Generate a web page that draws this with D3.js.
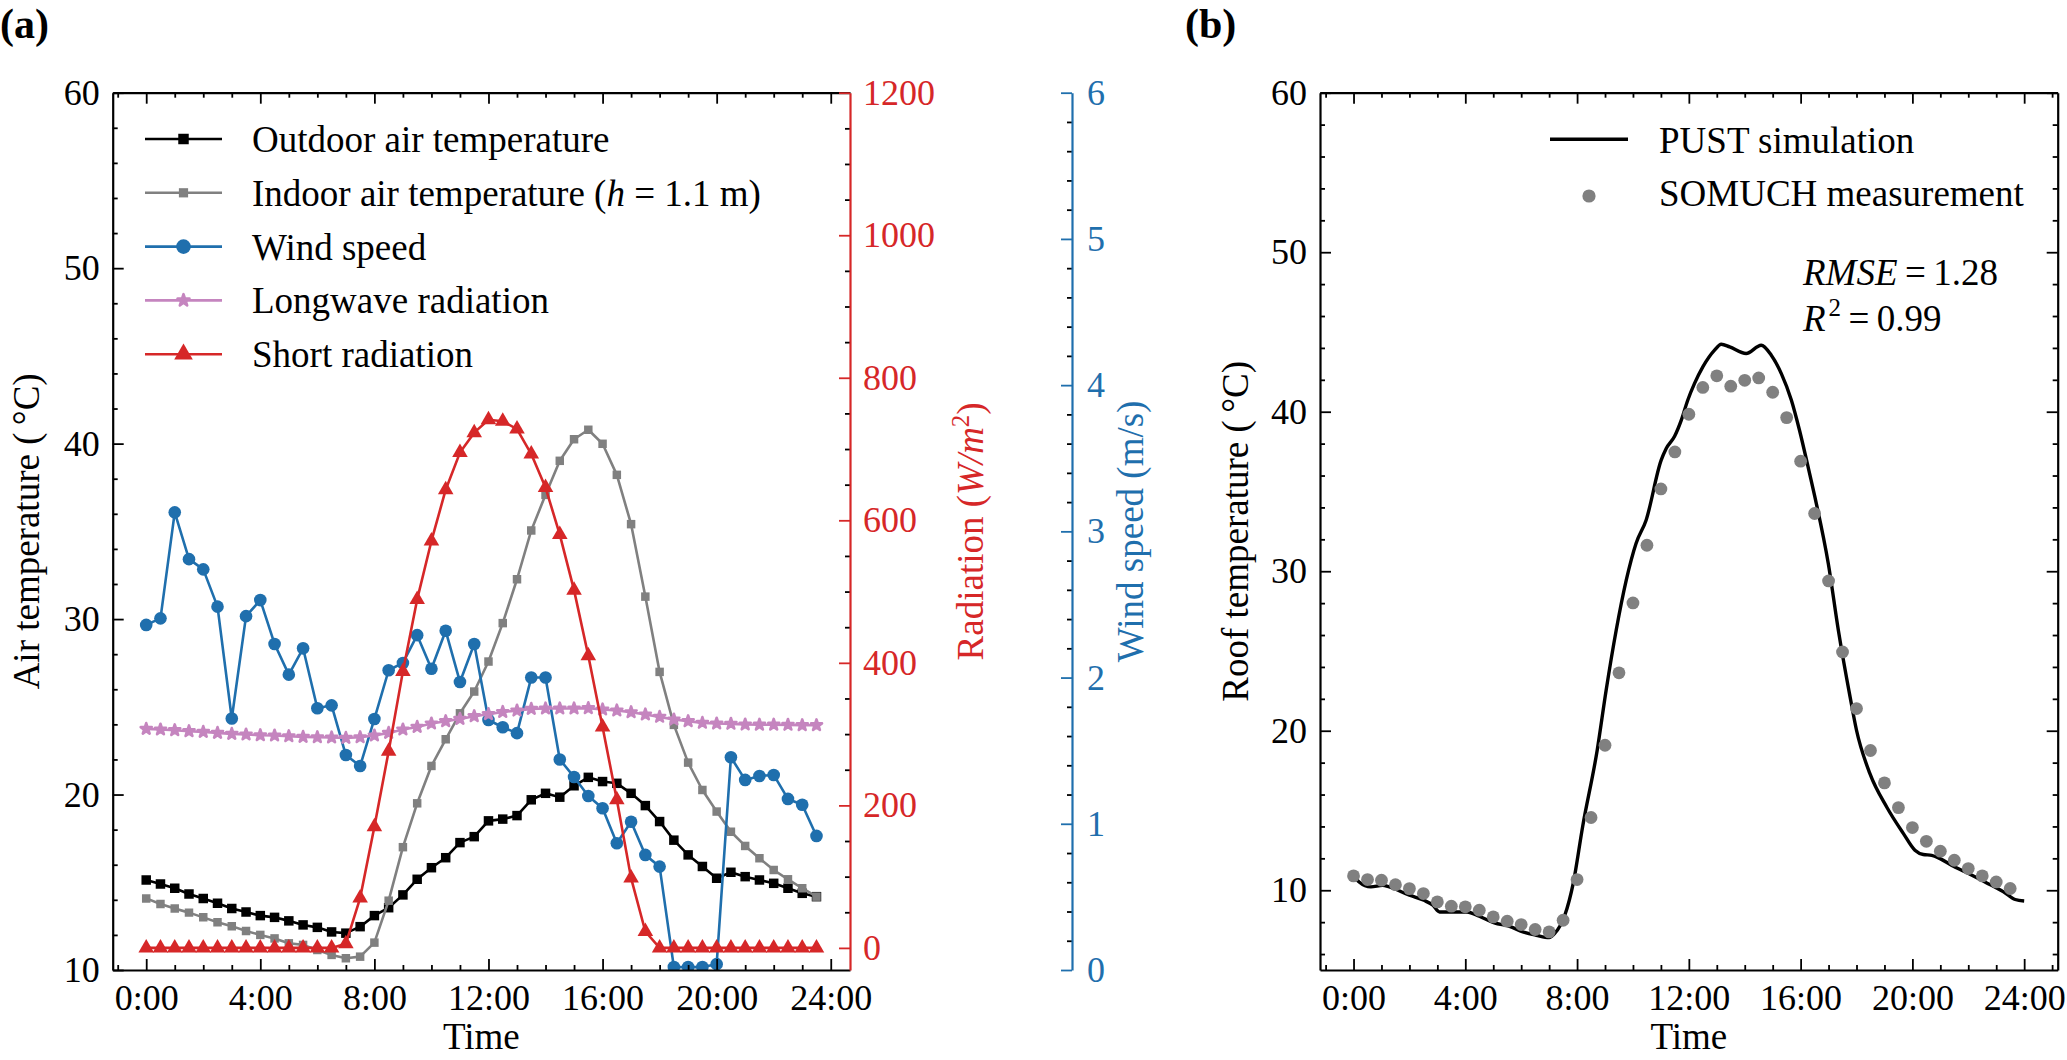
<!DOCTYPE html>
<html>
<head>
<meta charset="utf-8">
<title>Air temperature, radiation, wind and roof temperature</title>
<script src="https://d3js.org/d3.v7.min.js"></script>
<style>
  body { margin: 0; background: #fff; }
  svg text { font-family: "Liberation Serif", "Times New Roman", serif; }
</style>
</head>
<body>
<svg width="2067" height="1060"></svg>
<script>
// ---- data ----
const hours = [0,0.5,1,1.5,2,2.5,3,3.5,4,4.5,5,5.5,6,6.5,7,7.5,8,8.5,9,9.5,10,10.5,11,11.5,
               12,12.5,13,13.5,14,14.5,15,15.5,16,16.5,17,17.5,18,18.5,19,19.5,20,20.5,21,21.5,22,22.5,23,23.5];

const outdoorTemp = [15.13,14.9,14.66,14.33,14.07,13.8,13.5,13.3,13.1,13.0,12.8,12.57,12.43,12.17,12.1,12.47,
                     13.1,13.55,14.28,15.17,15.83,16.4,17.26,17.6,18.5,18.6,18.8,19.7,20.07,19.85,20.5,20.98,
                     20.74,20.64,20.07,19.37,18.46,17.4,16.56,15.9,15.23,15.57,15.32,15.13,14.94,14.66,14.37,14.18];

const indoorTemp = [14.08,13.76,13.5,13.27,13.0,12.72,12.5,12.22,12.0,11.8,11.52,11.43,11.14,10.86,10.67,10.76,
                    11.56,13.95,17.0,19.5,21.63,23.15,24.63,25.87,27.58,29.77,32.27,35.05,37.08,39.02,40.25,40.79,
                    39.99,38.22,35.41,31.28,26.99,23.97,21.82,20.26,19.03,17.88,17.07,16.37,15.7,15.17,14.66,14.18];

const windSpeed = [2.36,2.405,3.13,2.81,2.74,2.485,1.72,2.42,2.53,2.23,2.02,2.2,1.79,1.81,1.47,1.395,
                   1.717,2.05,2.1,2.29,2.06,2.32,1.97,2.23,1.71,1.66,1.62,2.0,2.0,1.44,1.32,1.19,
                   1.106,0.867,1.014,0.787,0.707,0.02,0.02,0.02,0.04,1.455,1.3,1.327,1.334,1.17,1.13,0.917];

const longwaveRad = [307.3,306.4,305.5,304.1,303.1,301.7,300.3,299.4,298.4,298,297,296.1,295.6,295.2,294.7,295.6,
                     298,301.7,306.4,310.1,314.8,318.1,321.3,325.1,328,331,333,335.4,335.9,335.9,335.9,336.4,
                     334.5,333.1,330.7,327.5,324.2,320.4,318.1,315.8,314.8,314.4,313.4,313.2,313.2,313,312.5,312.5];

const shortRad = [0,0,0,0,0,0,0,0,0,0,0,0,0,0,6,70,
                  170,276,388,489,571,643,695,723,741,739,728,693,646,580,502,410,
                  310,208,98,23,0,0,0,0,0,0,0,0,0,0,0,0];

const roofHours = [0,0.5,1,1.5,2,2.5,3,3.5,4,4.5,5,5.5,6,6.5,7,7.5,8,8.5,9,9.5,10,10.5,11,11.5,
                   12,12.5,13,13.5,14,14.5,15,15.5,16,16.5,17,17.5,18,18.5,19,19.5,20,20.5,21,21.5,22,22.5,23,23.5];
const roofMeasured = [10.9,10.67,10.63,10.35,10.1,9.79,9.27,9.0,8.96,8.75,8.33,8.06,7.85,7.54,7.39,8.12,
                      10.67,14.56,19.09,23.63,28.01,31.63,35.16,37.48,39.84,41.52,42.25,41.6,41.97,42.12,41.22,39.63,
                      36.9,33.62,29.39,24.94,21.39,18.76,16.73,15.18,13.93,13.07,12.45,11.88,11.36,10.9,10.52,10.11];

const simHours = [0,0.2,0.62,1.04,1.28,2.0,2.52,2.84,3.08,3.5,4.06,4.5,5.04,5.58,6.06,6.54,7.0,7.2,7.56,7.86,
                  8.2,8.72,9.04,9.4,9.76,10.11,10.47,11.01,11.19,11.49,11.73,11.96,12.2,12.5,12.92,13.16,13.46,14.05,14.59,14.95,
                  15.31,15.67,15.96,16.32,16.51,16.99,17.35,17.77,18.0,18.48,19.08,19.68,20.09,20.39,20.69,20.99,21.47,22.06,22.66,23.26,
                  23.68,24.0];
const simTemp = [10.94,10.52,10.21,10.31,10.21,9.69,9.37,9.06,8.64,8.64,8.64,8.37,7.95,7.74,7.39,7.18,7.03,7.29,8.43,10.42,
                 14.0,18.78,22.54,26.3,29.44,31.74,33.2,36.96,37.69,38.46,39.47,40.72,41.76,42.81,43.86,44.23,44.06,43.65,44.17,43.54,
                 42.39,40.72,38.84,36.13,34.66,30.48,26.3,22.12,20.03,17.31,15.22,13.55,12.51,12.24,12.19,11.98,11.5,11.0,10.46,9.9,
                 9.42,9.33];

const hourTicks = [0,4,8,12,16,20,24];

// ---- colours ----
const cBlack = "#000000", cGray = "#808080", cBlue = "#1f6fad", cPink = "#c585bf", cRed = "#d62728";
const FONT = "Liberation Serif, Times New Roman, serif";
const FS = 37;

const svg = d3.select("svg");

// ---- scales ----
const A = {left: 112.7, right: 850, top: 92.7, bottom: 970};
const B = {left: 1320, right: 2057.7, top: 92.7, bottom: 970};

const xA = d3.scaleLinear().domain([-1.175, 24.675]).range([A.left, A.right]);
const yTemp = d3.scaleLinear().domain([10, 60]).range([A.bottom, A.top]);
const yRad = d3.scaleLinear().domain([-31, 1200]).range([A.bottom, A.top]);
const yWind = d3.scaleLinear().domain([0, 6]).range([A.bottom, A.top]);
const windAxisX = 1072;

const xB = d3.scaleLinear().domain([-1.2, 25.2]).range([B.left, B.right]);
const yRoof = d3.scaleLinear().domain([5, 60]).range([B.bottom, B.top]);

// ---- axis helper: inward ticks, major + minor ----
function addAxis(orient, scale, pos, major, minor, opts = {}) {
  const make = {bottom: d3.axisBottom, top: d3.axisTop, left: d3.axisLeft, right: d3.axisRight}[orient];
  const tr = (orient === "bottom" || orient === "top") ? `translate(0,${pos})` : `translate(${pos},0)`;
  const color = opts.color || cBlack;

  const gMin = svg.append("g").attr("transform", tr)
    .call(make(scale).tickValues(minor).tickSizeInner(-5).tickSizeOuter(0).tickFormat(""));
  gMin.select(".domain").remove();
  gMin.selectAll(".tick line").attr("stroke", cBlack).attr("stroke-width", 1.8);

  const gMaj = svg.append("g").attr("transform", tr)
    .call(make(scale).tickValues(major).tickSizeInner(-11).tickSizeOuter(0)
      .tickPadding(opts.pad || 0).tickFormat(opts.format || (() => "")));
  gMaj.attr("font-size", 36).attr("font-family", FONT);
  gMaj.select(".domain").attr("stroke", color).attr("stroke-width", 2.2);
  gMaj.selectAll(".tick line").attr("stroke", color).attr("stroke-width", 1.8);
  gMaj.selectAll(".tick text").attr("fill", color);
}

const hourFmt = d => d + ":00";
const range = (a, b, s, skip) => d3.range(a, b + s / 2, s).filter(v => !skip || Math.abs(v % skip) > 1e-6);

// ================= panel (a) =================
svg.append("clipPath").attr("id", "clipA").append("rect")
  .attr("x", A.left).attr("y", A.top).attr("width", A.right - A.left).attr("height", A.bottom - A.top);

const gA = svg.append("g").attr("clip-path", "url(#clipA)");

function series(g, xs, ys, xScale, yScale, color, symbol, size, edge) {
  const pts = xs.map((x, i) => [xScale(x), yScale(ys[i])]);
  g.append("path").attr("d", d3.line()(pts))
    .attr("fill", "none").attr("stroke", color).attr("stroke-width", 2.6).attr("stroke-linejoin", "round");
  g.selectAll(null).data(pts).enter().append("path")
    .attr("transform", d => `translate(${d[0]},${d[1]})`)
    .attr("d", d3.symbol().type(symbol).size(size))
    .attr("fill", color)
    .attr("stroke", edge ? color : null).attr("stroke-width", edge || null).attr("stroke-linejoin", "round");
}

series(gA, hours, outdoorTemp, xA, yTemp, cBlack, d3.symbolSquare, 90);
series(gA, hours, indoorTemp, xA, yTemp, cGray, d3.symbolSquare, 72);
series(gA, hours, windSpeed, xA, yWind, cBlue, d3.symbolCircle, 125);
series(gA, hours, longwaveRad, xA, yRad, cPink, d3.symbolStar, 38, 2.6);
series(gA, hours, shortRad, xA, yRad, cRed, d3.symbolTriangle, 105);

// axes of panel (a)
addAxis("bottom", xA, A.bottom, hourTicks, range(-1, 23, 1, 4), {format: hourFmt, pad: 14});
addAxis("top", xA, A.top, hourTicks, range(-1, 23, 1, 4));
addAxis("left", yTemp, A.left, [10,20,30,40,50,60], range(12, 58, 2, 10), {format: d3.format("d"), pad: 13});
addAxis("right", yRad, A.right, [0,200,400,600,800,1000,1200], range(50, 1150, 50, 200),
  {format: d3.format("d"), pad: 13, color: cRed});
addAxis("right", yWind, windAxisX, [0,1,2,3,4,5,6], range(0.2, 5.8, 0.2).filter(v => Math.abs(v - Math.round(v)) > 1e-6),
  {format: d3.format("d"), pad: 15, color: cBlue});

// axis titles (a)
svg.append("text").attr("transform", `translate(39,${(A.top + A.bottom) / 2}) rotate(-90)`)
  .attr("text-anchor", "middle").attr("font-size", FS).text("Air temperature (\u2009°C)");
svg.append("text").attr("x", (A.left + A.right) / 2).attr("y", 1049)
  .attr("text-anchor", "middle").attr("font-size", FS).text("Time");

const radLabel = svg.append("text").attr("transform", `translate(983,${(A.top + A.bottom) / 2}) rotate(-90)`)
  .attr("text-anchor", "middle").attr("font-size", FS).attr("fill", cRed);
radLabel.append("tspan").text("Radiation (");
radLabel.append("tspan").attr("font-style", "italic").text("W/m");
radLabel.append("tspan").attr("font-size", 25).attr("dy", -14).text("2");
radLabel.append("tspan").attr("dy", 14).text(")");

svg.append("text").attr("transform", `translate(1143,${(A.top + A.bottom) / 2}) rotate(-90)`)
  .attr("text-anchor", "middle").attr("font-size", FS).attr("fill", cBlue).text("Wind speed (m/s)");

// legend (a)
const legendA = [
  {label: ["Outdoor air temperature"], color: cBlack, symbol: d3.symbolSquare, size: 110},
  {label: ["Indoor air temperature (", "h", " = 1.1 m)"], color: cGray, symbol: d3.symbolSquare, size: 85},
  {label: ["Wind speed"], color: cBlue, symbol: d3.symbolCircle, size: 170},
  {label: ["Longwave radiation"], color: cPink, symbol: d3.symbolStar, size: 44, edge: 2.6},
  {label: ["Short radiation"], color: cRed, symbol: d3.symbolTriangle, size: 150}
];
legendA.forEach((d, i) => {
  const y = 139 + i * 53.8;
  svg.append("line").attr("x1", 145).attr("x2", 222).attr("y1", y).attr("y2", y)
    .attr("stroke", d.color).attr("stroke-width", 2.6);
  svg.append("path").attr("transform", `translate(183.5,${y})`)
    .attr("d", d3.symbol().type(d.symbol).size(d.size)).attr("fill", d.color)
    .attr("stroke", d.edge ? d.color : null).attr("stroke-width", d.edge || null).attr("stroke-linejoin", "round");
  const t = svg.append("text").attr("x", 252).attr("y", y + 13).attr("font-size", FS);
  d.label.forEach((s, j) => t.append("tspan").attr("font-style", j === 1 ? "italic" : null).text(s));
});

svg.append("text").attr("x", 0).attr("y", 38).attr("font-size", 42).attr("font-weight", "bold").text("(a)");

// ================= panel (b) =================
svg.append("clipPath").attr("id", "clipB").append("rect")
  .attr("x", B.left).attr("y", B.top).attr("width", B.right - B.left).attr("height", B.bottom - B.top);
const gB = svg.append("g").attr("clip-path", "url(#clipB)");

gB.append("path")
  .attr("d", d3.line().x((d, i) => xB(simHours[i])).y(d => yRoof(d)).curve(d3.curveMonotoneX)(simTemp))
  .attr("fill", "none").attr("stroke", cBlack).attr("stroke-width", 3.4).attr("stroke-linejoin", "round");

gB.selectAll("circle.meas").data(roofMeasured).enter().append("circle")
  .attr("class", "meas")
  .attr("cx", (d, i) => xB(roofHours[i])).attr("cy", d => yRoof(d)).attr("r", 6.4)
  .attr("fill", cGray);

addAxis("bottom", xB, B.bottom, hourTicks, range(-1, 25, 1, 4), {format: hourFmt, pad: 14});
addAxis("top", xB, B.top, hourTicks, range(-1, 25, 1, 4));
addAxis("left", yRoof, B.left, [10,20,30,40,50,60], range(6, 58, 2, 10), {format: d3.format("d"), pad: 13});
addAxis("right", yRoof, B.right, [10,20,30,40,50,60], range(6, 58, 2, 10));

svg.append("text").attr("transform", `translate(1248,${(B.top + B.bottom) / 2}) rotate(-90)`)
  .attr("text-anchor", "middle").attr("font-size", FS).text("Roof temperature (\u2009°C)");
svg.append("text").attr("x", (B.left + B.right) / 2).attr("y", 1049)
  .attr("text-anchor", "middle").attr("font-size", FS).text("Time");

// legend (b)
svg.append("line").attr("x1", 1550).attr("x2", 1628).attr("y1", 139.3).attr("y2", 139.3)
  .attr("stroke", cBlack).attr("stroke-width", 3.4);
svg.append("circle").attr("cx", 1589).attr("cy", 196).attr("r", 6.6).attr("fill", cGray);
svg.append("text").attr("x", 1659).attr("y", 152.7).attr("font-size", FS).text("PUST simulation");
svg.append("text").attr("x", 1659).attr("y", 205.7).attr("font-size", FS).text("SOMUCH measurement");

const rmse = svg.append("text").attr("x", 1803).attr("y", 285).attr("font-size", FS);
rmse.append("tspan").attr("font-style", "italic").text("RMSE");
rmse.append("tspan").text("\u2009=\u20091.28");
const r2 = svg.append("text").attr("x", 1803).attr("y", 331).attr("font-size", FS);
r2.append("tspan").attr("font-style", "italic").text("R");
r2.append("tspan").attr("font-size", 25).attr("dy", -15).attr("dx", 3).text("2");
r2.append("tspan").attr("dy", 15).text("\u2009=\u20090.99");

svg.append("text").attr("x", 1185).attr("y", 38).attr("font-size", 42).attr("font-weight", "bold").text("(b)");
</script>
</body>
</html>
